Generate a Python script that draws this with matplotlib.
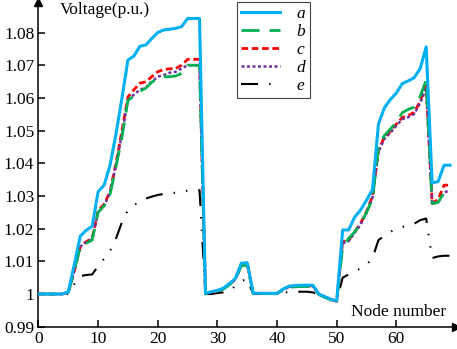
import numpy as np
import matplotlib
matplotlib.use("Agg")
import matplotlib.pyplot as plt
from matplotlib.ticker import FuncFormatter

# node index 0..69
nodes = list(range(70))

volt_a = [
    1.0000, 1.0000, 1.0000, 1.0000, 1.0000,
    1.0007, 1.0090, 1.0177, 1.0195, 1.0207,
    1.0313, 1.0333, 1.0394, 1.0490, 1.0600,
    1.0716, 1.0728, 1.0758, 1.0762, 1.0782,
    1.0800, 1.0808, 1.0810, 1.0813, 1.0818,
    1.0843, 1.0843, 1.0843, 1.0002, 1.0007,
    1.0011, 1.0018, 1.0032, 1.0047, 1.0094,
    1.0096, 1.0003, 1.0002, 1.0002, 1.0002,
    1.0002, 1.0015, 1.0024, 1.0026, 1.0027,
    1.0027, 1.0027, 1.0000, 0.9992, 0.9984,
    0.9979, 1.0196, 1.0196, 1.0235, 1.0257,
    1.0287, 1.0320, 1.0520, 1.0570, 1.0595,
    1.0615, 1.0644, 1.0652, 1.0662, 1.0690,
    1.0756, 1.0340, 1.0344, 1.0394, 1.0394,
]

volt_b = [
    1.0000, 1.0000, 1.0000, 1.0000, 1.0000,
    1.0005, 1.0070, 1.0145, 1.0155, 1.0165,
    1.0250, 1.0270, 1.0305, 1.0390, 1.0480,
    1.0593, 1.0605, 1.0620, 1.0630, 1.0648,
    1.0660, 1.0665, 1.0665, 1.0667, 1.0675,
    1.0700, 1.0700, 1.0700, 1.0000, 1.0005,
    1.0009, 1.0015, 1.0028, 1.0043, 1.0086,
    1.0088, 1.0001, 1.0001, 1.0001, 1.0001,
    1.0001, 1.0012, 1.0020, 1.0022, 1.0023,
    1.0023, 1.0023, 0.9998, 0.9990, 0.9982,
    0.9977, 1.0145, 1.0170, 1.0190, 1.0215,
    1.0250, 1.0290, 1.0450, 1.0485, 1.0505,
    1.0525, 1.0555, 1.0565, 1.0572, 1.0605,
    1.0654, 1.0277, 1.0280, 1.0310, 1.0320,
]

volt_c = [
    1.0000, 1.0000, 1.0000, 1.0000, 1.0000,
    1.0005, 1.0070, 1.0145, 1.0160, 1.0170,
    1.0255, 1.0275, 1.0313, 1.0400, 1.0500,
    1.0603, 1.0625, 1.0645, 1.0649, 1.0665,
    1.0680, 1.0687, 1.0689, 1.0690, 1.0700,
    1.0718, 1.0718, 1.0718, 1.0001, 1.0006,
    1.0010, 1.0016, 1.0030, 1.0045, 1.0088,
    1.0092, 1.0002, 1.0002, 1.0002, 1.0002,
    1.0002, 1.0013, 1.0023, 1.0025, 1.0025,
    1.0025, 1.0025, 0.9999, 0.9991, 0.9983,
    0.9978, 1.0160, 1.0165, 1.0190, 1.0216,
    1.0252, 1.0300, 1.0440, 1.0480, 1.0498,
    1.0520, 1.0540, 1.0546, 1.0556, 1.0590,
    1.0639, 1.0277, 1.0290, 1.0333, 1.0333,
]

volt_d = [
    1.0000, 1.0000, 1.0000, 1.0000, 1.0000,
    1.0005, 1.0070, 1.0145, 1.0158, 1.0168,
    1.0250, 1.0270, 1.0310, 1.0395, 1.0490,
    1.0593, 1.0610, 1.0625, 1.0632, 1.0650,
    1.0665, 1.0670, 1.0677, 1.0680, 1.0690,
    1.0700, 1.0700, 1.0700, 1.0001, 1.0006,
    1.0010, 1.0016, 1.0030, 1.0045, 1.0088,
    1.0091, 1.0002, 1.0002, 1.0002, 1.0002,
    1.0002, 1.0013, 1.0022, 1.0024, 1.0024,
    1.0024, 1.0024, 0.9999, 0.9991, 0.9983,
    0.9978, 1.0155, 1.0162, 1.0187, 1.0212,
    1.0248, 1.0295, 1.0435, 1.0475, 1.0493,
    1.0515, 1.0535, 1.0541, 1.0551, 1.0585,
    1.0630, 1.0277, 1.0280, 1.0310, 1.0318,
]

volt_e = [
    1.0000, 1.0000, 1.0000, 1.0000, 1.0000,
    1.0000, 1.0030, 1.0055, 1.0058, 1.0060,
    1.0085, 1.0108, 1.0132, 1.0170, 1.0220,
    1.0257, 1.0272, 1.0283, 1.0292, 1.0298,
    1.0303, 1.0306, 1.0308, 1.0310, 1.0314,
    1.0316, 1.0318, 1.0318, 1.0000, 1.0000,
    1.0003, 1.0005, 1.0008, 1.0025, 1.0040,
    1.0045, 1.0000, 1.0000, 1.0000, 1.0000,
    1.0000, 1.0003, 1.0007, 1.0007, 1.0007,
    1.0007, 1.0005, 0.9998, 0.9990, 0.9983,
    0.9979, 1.0050, 1.0060, 1.0070, 1.0078,
    1.0089, 1.0110, 1.0165, 1.0178, 1.0190,
    1.0200, 1.0205, 1.0210, 1.0215, 1.0226,
    1.0231, 1.0110, 1.0115, 1.0117, 1.0117,
]

series_labels = ["a", "b", "c", "d", "e"]
y_ticks = [0.99, 1.00, 1.01, 1.02, 1.03, 1.04, 1.05, 1.06, 1.07, 1.08]
x_ticks = [0, 10, 20, 30, 40, 50, 60]

plt.rcParams["font.family"] = ["Liberation Serif", "DejaVu Serif"]
plt.rcParams["font.size"] = 12.5

fig = plt.figure(figsize=(4.57, 3.49), dpi=100)
ax = fig.add_axes([0.0842, 0.0639, 0.9136, 0.930])

le, = ax.plot(nodes, volt_e, color="black", lw=1.5, zorder=2)
le.set_dashes([8.2, 5.3, 0.7, 5.3, 0.7, 5.3])
lc, = ax.plot(nodes, volt_c, color="#FF0000", lw=2.0, zorder=3)
lc.set_dashes([2.4, 1.3])
ld, = ax.plot(nodes, volt_d, color="#7030A0", lw=1.8, zorder=4)
ld.set_dashes([1.2, 1.0])
lb, = ax.plot(nodes, volt_b, color="#00B050", lw=2.0, zorder=5)
lb.set_dashes([6.5, 3.6])
la, = ax.plot(nodes, volt_a, color="#00B0F0", lw=2.2, zorder=6)

ax.set_xlim(0, 70)
ax.set_ylim(0.99, 1.0893)
ax.set_xticks(x_ticks)
ax.set_yticks(y_ticks)
ax.yaxis.set_major_formatter(FuncFormatter(lambda v, p: "1" if abs(v - 1) < 1e-9 else f"{v:.2f}"))
ax.tick_params(direction="in", length=5, width=1.1, pad=3)

for side in ["top", "right"]:
    ax.spines[side].set_visible(False)
for side in ["left", "bottom"]:
    ax.spines[side].set_linewidth(1.1)

# arrow heads on the axes
ax.plot(1, 0, ">k", transform=ax.transAxes, clip_on=False, markersize=6)
ax.plot(0, 1, "^k", transform=ax.transAxes, clip_on=False, markersize=6)

ax.text(3.6, 1.0856, "Voltage(p.u.)", ha="left", va="baseline")
ax.text(68.4, 0.99327, "Node number", ha="right", va="baseline")

leg = ax.legend([la, lb, lc, ld, le], series_labels, loc="upper left",
                bbox_to_anchor=(0.4747, 1.0009), borderaxespad=0,
                handlelength=2.25, handletextpad=0.95, labelspacing=0.1,
                borderpad=0.25, fancybox=False, framealpha=1,
                prop={"family": "Liberation Serif", "style": "italic", "size": 12.5})
leg.get_frame().set_edgecolor("#444444")
leg.get_frame().set_linewidth(0.8)

fig.savefig("out.png", dpi=100)
